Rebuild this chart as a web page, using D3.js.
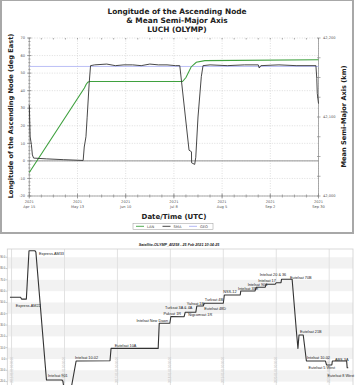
<!DOCTYPE html>
<html>
<head>
<meta charset="utf-8">
<script src="https://cdn.jsdelivr.net/npm/d3@7"></script>
<style>
  html, body { margin: 0; padding: 0; background: #fff; }
  svg { display: block; }
</style>
</head>
<body>
<svg width="355" height="385"></svg>
<script>
// ---------- top chart: LAN / SMA ----------
const lanDates = ["2021-04-15", "2021-05-17", "2021-05-18", "2021-05-19", "2021-05-20",
  "2021-07-13", "2021-07-15", "2021-07-18", "2021-07-21", "2021-07-26", "2021-09-30"];
const lanValues = [-6.6, 41.5, 43.5, 44.8, 45.2, 45.2, 47.5, 53.5, 56.2, 57.1, 57.6];

const smaDates = ["2021-04-15T00:00", "2021-04-15T12:00", "2021-04-16T05:00", "2021-04-16T19:00",
  "2021-04-17T12:00", "2021-04-25T00:00", "2021-05-05T00:00", "2021-05-16T07:00",
  "2021-05-16T22:00", "2021-05-17T22:00", "2021-05-18T14:00", "2021-05-19T19:00",
  "2021-05-20T14:00", "2021-05-23T00:00", "2021-05-30T00:00", "2021-06-04T00:00",
  "2021-06-09T00:00", "2021-06-14T00:00", "2021-06-19T00:00", "2021-06-24T00:00",
  "2021-06-29T00:00", "2021-07-04T00:00", "2021-07-09T00:00", "2021-07-11T10:00",
  "2021-07-16T19:00", "2021-07-18T05:00", "2021-07-18T07:00", "2021-07-20T02:00",
  "2021-07-20T17:00", "2021-07-22T00:00", "2021-07-23T22:00", "2021-07-24T22:00",
  "2021-07-29T00:00", "2021-08-08T00:00", "2021-08-18T00:00", "2021-08-26T00:00",
  "2021-08-26T14:00", "2021-08-27T12:00", "2021-09-07T00:00", "2021-09-17T00:00",
  "2021-09-28T12:00", "2021-09-29T00:00", "2021-09-29T07:00", "2021-09-30T00:00"];
const smaValues = [42115, 42075, 42065, 42052, 42048, 42047, 42046, 42045,
  42062, 42075, 42099, 42143, 42165, 42166, 42167, 42165,
  42166, 42166, 42165, 42167, 42166, 42166, 42165, 42165,
  42058, 42056, 42042, 42040, 42049, 42100, 42151, 42165,
  42166, 42165, 42166, 42166, 42162, 42165, 42166, 42165,
  42165, 42149, 42130, 42117];
const geoSma = 42164;

const xTickDates = ["2021-04-15", "2021-05-13", "2021-06-10", "2021-07-08", "2021-08-05", "2021-09-02", "2021-09-30"];
const xTickLabels = ["Apr 15", "May 13", "Jun 10", "Jul 8", "Aug 5", "Sep 2", "Sep 30"];
const lanTicks = [-20, -10, 0, 10, 20, 30, 40, 50, 60, 70];
const smaTicks = [42000, 42100, 42200];
const legendNames = ["LAN", "SMA", "GEO"];

// ---------- bottom chart: longitude history ----------
const histYears = [2014.97, 2015.17, 2015.19, 2015.28, 2015.33, 2015.44, 2015.46, 2015.66,
  2015.95, 2015.97, 2015.99, 2016.05, 2016.13, 2016.22, 2016.86, 2016.88,
  2017.77, 2017.79, 2017.99, 2018.01, 2018.26, 2018.28, 2018.48, 2018.50,
  2018.62, 2018.64, 2019.00, 2019.02, 2019.32, 2019.33, 2019.60, 2019.62,
  2019.79, 2019.81, 2019.98, 2020.00, 2020.09, 2020.10, 2020.30, 2020.38,
  2020.41, 2020.43, 2020.51, 2020.57, 2020.93, 2020.95, 2021.05, 2021.06,
  2021.33, 2021.34, 2021.36];
const histLon = [54.6, 54.6, 53, 53, 95.8, 95.8, 94.5, -18.6,
  -18.6, -19.5, -26, -45, -25, -1.8, -1.5, 9.4,
  9.4, 31.6, 31.6, 37.6, 37.4, 41.3, 41.3, 46.9,
  46.9, 49.3, 49.3, 56.6, 56.6, 60.2, 60.2, 63.4,
  63.4, 66.1, 66.1, 67.5, 67.5, 70.5, 70.5, 25,
  9.4, 21.2, 21.2, -1.8, -1.8, -5.3, -5.3, -1.8,
  -1.8, -7.7, -7.7];

const neighbourNames = ["Express-AM33", "Express-AM22", "Intelsat 901", "Intelsat 10-02",
  "Eutelsat 10A", "Intelsat New Dawn", "Paksat 1R", "Turksat 3A & 4A", "Nigcomsat 1R",
  "Yahsat 1B", "Turksat 4B", "Eutelsat 48D", "NSS-12", "Intelsat 33E", "Intelsat 906",
  "Intelsat 17", "Intelsat 20 & 36", "Eutelsat 70B", "Eutelsat 21B", "Intelsat 10-02",
  "Eutelsat 5 West", "ABS-3A", "Eutelsat 8 West"];
const neighbourYears = [2015.52, 2015.08, 2015.69, 2016.20, 2016.95, 2017.36, 2017.87, 2017.90,
  2018.34, 2018.31, 2018.65, 2018.64, 2019.00, 2019.28, 2019.46, 2019.66, 2019.69,
  2020.26, 2020.45, 2020.58, 2020.61, 2021.11, 2020.97];
const neighbourLon = [92.2, 46, -15.9, 0, 10.3, 33, 39.2, 44.2, 37.7, 48, 51, 43.6,
  58.3, 61.3, 64.9, 68.1, 73.1, 71.1, 22.9, -0.1, -8.9, -1.5, -16.3];

const yearTicks = [2015, 2016, 2017, 2018, 2019, 2020, 2021];
const lonTicks = [-20, -10, 0, 10, 20, 30, 40, 50, 60, 70, 80, 90];
const histTitle = "Satellite-OLYMP_40258 - 25 Feb 2021 10:34:25";

const parse = d3.isoParse;
const svg = d3.select("svg");

// ===== top panel =====
const panel1 = svg.append("g").attr("font-family", "DejaVu Sans, Verdana, sans-serif");
panel1.append("rect").attr("x", 1).attr("y", 0).attr("width", 352).attr("height", 233)
  .attr("fill", "#fff").attr("stroke", "#a8a8a8").attr("stroke-width", 2);

const titleLines = ["Longitude of the Ascending Node", "& Mean Semi-Major Axis", "LUCH (OLYMP)"];
panel1.append("g").selectAll("text").data(titleLines).join("text")
  .attr("x", 177).attr("y", (d, i) => 14 + i * 9)
  .attr("text-anchor", "middle").attr("font-size", 7.4).attr("font-weight", "bold")
  .attr("fill", "#222").text(d => d);

const x = d3.scaleTime().domain([parse("2021-04-15"), parse("2021-09-30")]).range([29.3, 318.5]);
const yL = d3.scaleLinear().domain([-20, 70]).range([196, 38]);
const yR = d3.scaleLinear().domain([42000, 42200]).range([196, 38]);

// grid
const grid = panel1.append("g").attr("stroke", "#c8c8c8").attr("stroke-width", 0.6).attr("stroke-dasharray", "1,1.5");
grid.selectAll(".gx").data(xTickDates).join("line")
  .attr("x1", d => x(parse(d))).attr("x2", d => x(parse(d))).attr("y1", 38).attr("y2", 196);
grid.selectAll(".gy").data(lanTicks).join("line")
  .attr("x1", 29.3).attr("x2", 318.5).attr("y1", d => yL(d)).attr("y2", d => yL(d));

// axes
const xMinor = d3.timeDay.range(parse("2021-04-15"), parse("2021-10-01"), 7);
const ax = panel1.append("g").attr("stroke", "#888").attr("stroke-width", 0.7);
ax.append("line").attr("x1", 29.3).attr("x2", 318.5).attr("y1", 196).attr("y2", 196);
ax.append("line").attr("x1", 29.3).attr("x2", 29.3).attr("y1", 38).attr("y2", 196);
ax.append("line").attr("x1", 318.5).attr("x2", 318.5).attr("y1", 38).attr("y2", 196);
ax.selectAll(".mxb").data(xMinor).join("line")
  .attr("x1", d => x(d)).attr("x2", d => x(d)).attr("y1", 194.5).attr("y2", 197.5);
ax.selectAll(".mxt").data(xMinor).join("line")
  .attr("x1", d => x(d)).attr("x2", d => x(d)).attr("y1", 38).attr("y2", 39.5);
ax.selectAll(".Mx").data(xTickDates).join("line")
  .attr("x1", d => x(parse(d))).attr("x2", d => x(parse(d))).attr("y1", 193.5).attr("y2", 198.5);
ax.selectAll(".myl").data(d3.range(-20, 71, 2)).join("line")
  .attr("x1", 28.3).attr("x2", 30.5).attr("y1", d => yL(d)).attr("y2", d => yL(d));
ax.selectAll(".Myl").data(lanTicks).join("line")
  .attr("x1", 27).attr("x2", 31.5).attr("y1", d => yL(d)).attr("y2", d => yL(d));
ax.selectAll(".myr").data(d3.range(42000, 42201, 25)).join("line")
  .attr("x1", 317).attr("x2", 320.5).attr("y1", d => yR(d)).attr("y2", d => yR(d));

const tick = panel1.append("g").attr("font-size", 3.6).attr("fill", "#555");
tick.selectAll(".tl").data(lanTicks).join("text")
  .attr("x", 25).attr("y", d => yL(d) + 1.2).attr("text-anchor", "end").text(d => d);
tick.selectAll(".tr").data(smaTicks).join("text")
  .attr("x", 323).attr("y", d => yR(d) + 1.2).text(d => d3.format(",")(d));
tick.selectAll(".ty").data(xTickDates).join("text")
  .attr("x", d => x(parse(d))).attr("y", 203).attr("text-anchor", "middle").text("2021");
tick.selectAll(".td").data(xTickDates).join("text")
  .attr("x", d => x(parse(d))).attr("y", 207.5).attr("text-anchor", "middle").text((d, i) => xTickLabels[i]);

// axis titles
panel1.append("text").attr("x", 174).attr("y", 218.5).attr("text-anchor", "middle")
  .attr("font-size", 7).attr("font-weight", "bold").attr("fill", "#222").text("Date/Time (UTC)");
panel1.append("text").attr("transform", "translate(13,116) rotate(-90)").attr("text-anchor", "middle")
  .attr("font-size", 6.6).attr("font-weight", "bold").attr("fill", "#222")
  .text("Longitude of the Ascending Node (deg East)");
panel1.append("text").attr("transform", "translate(345.5,116.5) rotate(-90)").attr("text-anchor", "middle")
  .attr("font-size", 6.6).attr("font-weight", "bold").attr("fill", "#222")
  .text("Mean Semi-Major Axis (km)");

// reference lines
panel1.append("line").attr("x1", 29.3).attr("x2", 318.5).attr("y1", yL(0)).attr("y2", yL(0))
  .attr("stroke", "#8a8a8a").attr("stroke-width", 0.9);
panel1.append("line").attr("x1", 29.3).attr("x2", 318.5).attr("y1", yR(geoSma)).attr("y2", yR(geoSma))
  .attr("stroke", "#aab0f4").attr("stroke-width", 0.8);

const lanLine = d3.line().x((d, i) => x(parse(lanDates[i]))).y(d => yL(d));
panel1.append("path").attr("d", lanLine(lanValues)).attr("fill", "none")
  .attr("stroke", "#3fa13f").attr("stroke-width", 1.1);
const smaLine = d3.line().x((d, i) => x(parse(smaDates[i]))).y(d => yR(d));
panel1.append("path").attr("d", smaLine(smaValues)).attr("fill", "none")
  .attr("stroke", "#333").attr("stroke-width", 0.9);

// legend
const legColors = ["#3fa13f", "#333", "#aab0f4"];
const leg = panel1.append("g");
leg.append("rect").attr("x", 133).attr("y", 223.3).attr("width", 80).attr("height", 6)
  .attr("fill", "#fff").attr("stroke", "#999").attr("stroke-width", 0.5);
legendNames.forEach((n, i) => {
  const lx = 136 + i * 26.5;
  leg.append("line").attr("x1", lx).attr("x2", lx + 8).attr("y1", 226.3).attr("y2", 226.3)
    .attr("stroke", legColors[i]).attr("stroke-width", 0.9);
  leg.append("text").attr("x", lx + 11).attr("y", 227.7).attr("font-size", 3.6).attr("fill", "#444").text(n);
});

// ===== bottom panel =====
const panel2 = svg.append("g").attr("font-family", "Liberation Sans, Arial, sans-serif");
const bx = d3.scaleLinear().domain([2014.92, 2021.45]).range([7.3, 353]);
const by = d3.scaleLinear().domain([-40, 97.3]).range([404.2, 249]);

panel2.append("text").attr("x", 179).attr("y", 246.3).attr("text-anchor", "middle")
  .attr("font-size", 3.7).attr("font-weight", "bold").attr("font-style", "italic")
  .attr("fill", "#222").text(histTitle);

// zebra bands
panel2.selectAll(".band").data(lonTicks.filter(d => Math.abs(d) % 20 === 0 && d < 90))
  .join("rect")
  .attr("x", 7.3).attr("width", 353 - 7.3)
  .attr("y", d => by(d + 10)).attr("height", d => by(d) - by(d + 10))
  .attr("fill", "#f2f2f2");

panel2.selectAll(".vg").data(yearTicks).join("line")
  .attr("x1", d => bx(d)).attr("x2", d => bx(d)).attr("y1", 249).attr("y2", 385)
  .attr("stroke", "#e2e2e2").attr("stroke-width", 1);
panel2.selectAll(".vl").data(yearTicks).join("text")
  .attr("transform", d => `translate(${bx(d) + 1},383) rotate(-90)`)
  .attr("font-size", 2.8).attr("fill", "#c4c4c4").text(d => `${d}-01-01 00:00:00`);

panel2.append("rect").attr("x", 7.3).attr("y", 249).attr("width", 353 - 7.3).attr("height", 160)
  .attr("fill", "none").attr("stroke", "#cfcfcf").attr("stroke-width", 0.8);

panel2.selectAll(".yt").data(lonTicks).join("line")
  .attr("x1", 5.5).attr("x2", 7.3).attr("y1", d => by(d)).attr("y2", d => by(d))
  .attr("stroke", "#999").attr("stroke-width", 0.5);
panel2.selectAll(".yl").data(lonTicks).join("text")
  .attr("x", 5.2).attr("y", d => by(d) + 0.9).attr("text-anchor", "end")
  .attr("font-size", 2.6).attr("fill", "#555").text(d => d + ".0");

const histLine = d3.line().x((d, i) => bx(histYears[i])).y(d => by(d));
panel2.append("path").attr("d", histLine(histLon)).attr("fill", "none")
  .attr("stroke", "#333").attr("stroke-width", 1.1).attr("stroke-linejoin", "round");

panel2.selectAll(".nb").data(neighbourNames).join("text")
  .attr("x", (d, i) => bx(neighbourYears[i])).attr("y", (d, i) => by(neighbourLon[i]))
  .attr("font-size", 3.8).attr("fill", "#222").text(d => d);
</script>
</body>
</html>
